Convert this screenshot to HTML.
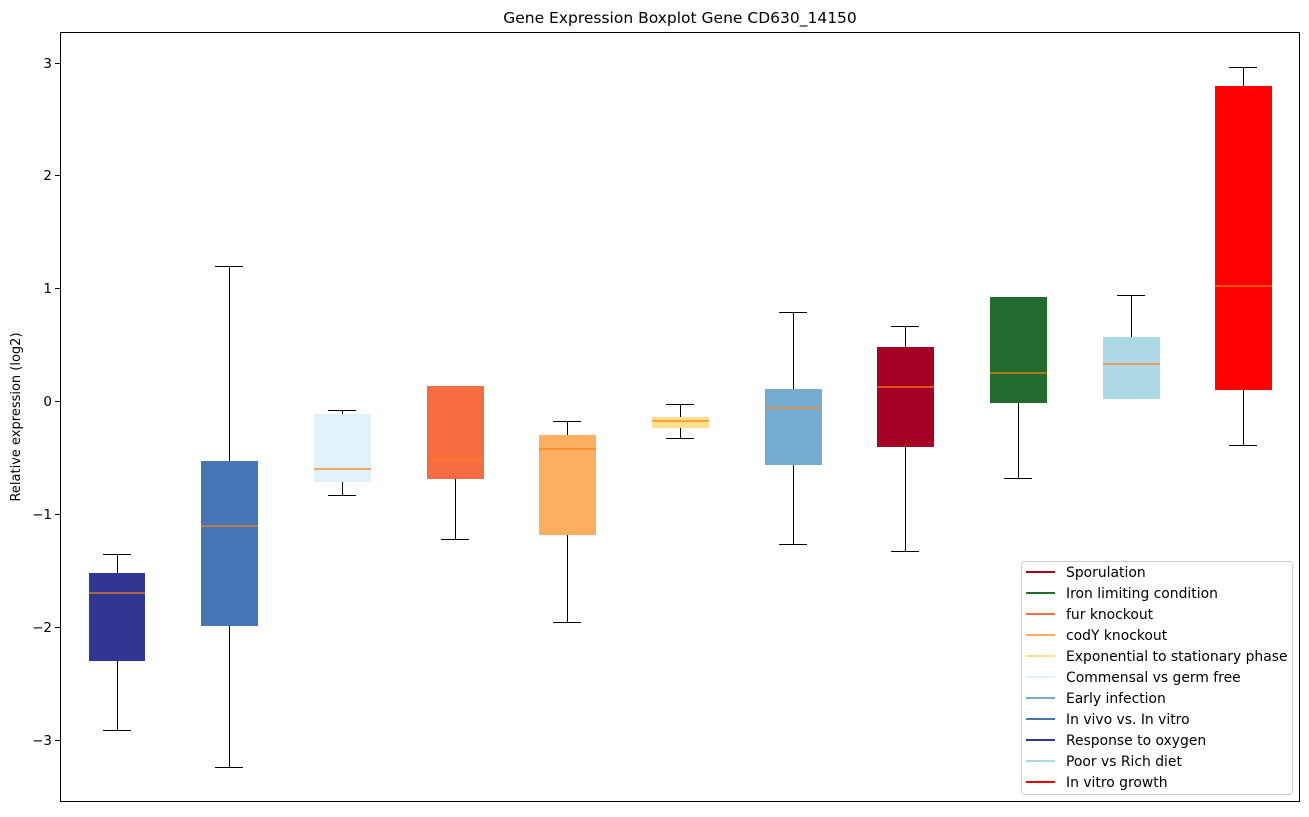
<!DOCTYPE html>
<html><head><meta charset="utf-8"><style>
html,body{margin:0;padding:0;background:#fff;}
svg text{font-family:"DejaVu Sans","Liberation Sans",sans-serif;fill:#000;}
</style></head><body>
<svg width="1309" height="812" xmlns="http://www.w3.org/2000/svg">
<rect width="1309" height="812" fill="#fff"/>
<text x="680" y="23" font-size="15.5" text-anchor="middle">Gene Expression Boxplot Gene CD630_14150</text>
<text transform="translate(20,417) rotate(-90)" font-size="13" text-anchor="middle">Relative expression (log2)</text>
<g font-size="13.5" text-anchor="end">
<text x="52" y="68">3</text><line x1="55" x2="60" y1="63.5" y2="63.5" stroke="#000"/>
<text x="52" y="180">2</text><line x1="55" x2="60" y1="175.5" y2="175.5" stroke="#000"/>
<text x="52" y="293">1</text><line x1="55" x2="60" y1="288.5" y2="288.5" stroke="#000"/>
<text x="52" y="406">0</text><line x1="55" x2="60" y1="401.5" y2="401.5" stroke="#000"/>
<text x="52" y="519">−1</text><line x1="55" x2="60" y1="514.5" y2="514.5" stroke="#000"/>
<text x="52" y="632">−2</text><line x1="55" x2="60" y1="627.5" y2="627.5" stroke="#000"/>
<text x="52" y="745">−3</text><line x1="55" x2="60" y1="740.5" y2="740.5" stroke="#000"/>
</g>
<g stroke="#000" stroke-width="1">
<line x1="117.5" x2="117.5" y1="554" y2="730"/><line x1="103" x2="131" y1="554.5" y2="554.5"/><line x1="103" x2="131" y1="730.5" y2="730.5"/>
<line x1="229.5" x2="229.5" y1="266" y2="767"/><line x1="215" x2="243" y1="266.5" y2="266.5"/><line x1="215" x2="243" y1="767.5" y2="767.5"/>
<line x1="342.5" x2="342.5" y1="410" y2="495"/><line x1="328" x2="356" y1="410.5" y2="410.5"/><line x1="328" x2="356" y1="495.5" y2="495.5"/>
<line x1="455.5" x2="455.5" y1="386" y2="539"/><line x1="441" x2="469" y1="386.5" y2="386.5"/><line x1="441" x2="469" y1="539.5" y2="539.5"/>
<line x1="567.5" x2="567.5" y1="421" y2="622"/><line x1="553" x2="581" y1="421.5" y2="421.5"/><line x1="553" x2="581" y1="622.5" y2="622.5"/>
<line x1="680.5" x2="680.5" y1="404" y2="438"/><line x1="666" x2="694" y1="404.5" y2="404.5"/><line x1="666" x2="694" y1="438.5" y2="438.5"/>
<line x1="793.5" x2="793.5" y1="312" y2="544"/><line x1="779" x2="807" y1="312.5" y2="312.5"/><line x1="779" x2="807" y1="544.5" y2="544.5"/>
<line x1="905.5" x2="905.5" y1="326" y2="551"/><line x1="891" x2="919" y1="326.5" y2="326.5"/><line x1="891" x2="919" y1="551.5" y2="551.5"/>
<line x1="1018.5" x2="1018.5" y1="297" y2="478"/><line x1="1004" x2="1032" y1="297.5" y2="297.5"/><line x1="1004" x2="1032" y1="478.5" y2="478.5"/>
<line x1="1131.5" x2="1131.5" y1="295" y2="398"/><line x1="1117" x2="1145" y1="295.5" y2="295.5"/><line x1="1117" x2="1145" y1="398.5" y2="398.5"/>
<line x1="1243.5" x2="1243.5" y1="67" y2="445"/><line x1="1229" x2="1257" y1="67.5" y2="67.5"/><line x1="1229" x2="1257" y1="445.5" y2="445.5"/>
</g>
<g>
<rect x="89" y="573" width="56" height="88" fill="#313695"/>
<rect x="201" y="461" width="57" height="165" fill="#4575b4"/>
<rect x="314" y="414" width="57" height="68" fill="#e0f3f8"/>
<rect x="427" y="386" width="57" height="93" fill="#f46d43"/>
<rect x="539" y="435" width="57" height="100" fill="#fdae61"/>
<rect x="652" y="417" width="57" height="11" fill="#fee090"/>
<rect x="765" y="389" width="57" height="76" fill="#74add1"/>
<rect x="877" y="347" width="57" height="100" fill="#a50026"/>
<rect x="990" y="297" width="57" height="106" fill="#246b2e"/>
<rect x="1103" y="337" width="57" height="62" fill="#add8e6"/>
<rect x="1215" y="86" width="57" height="304" fill="#ff0000"/>
</g>
<g stroke="#ff7f0e" stroke-width="1.3">
<line x1="89" x2="145" y1="593" y2="593"/>
<line x1="201" x2="258" y1="526" y2="526"/>
<line x1="314" x2="371" y1="469" y2="469"/>
<line x1="427" x2="484" y1="459" y2="459"/>
<line x1="539" x2="596" y1="449" y2="449"/>
<line x1="652" x2="709" y1="421" y2="421"/>
<line x1="765" x2="822" y1="408" y2="408"/>
<line x1="877" x2="934" y1="387" y2="387"/>
<line x1="990" x2="1047" y1="373" y2="373"/>
<line x1="1103" x2="1160" y1="364" y2="364"/>
<line x1="1215" x2="1272" y1="286" y2="286"/>
</g>
<rect x="60.5" y="32.5" width="1239" height="769" fill="none" stroke="#000" stroke-width="1"/>
<rect x="1021.5" y="561.5" width="271" height="233" rx="3" fill="#fff" fill-opacity="0.8" stroke="#ccc"/>
<g stroke-width="2">
<line x1="1026" x2="1055" y1="572" y2="572" stroke="#a50026"/>
<line x1="1026" x2="1055" y1="593" y2="593" stroke="#246b2e"/>
<line x1="1026" x2="1055" y1="614" y2="614" stroke="#f46d43"/>
<line x1="1026" x2="1055" y1="635" y2="635" stroke="#fdae61"/>
<line x1="1026" x2="1055" y1="656" y2="656" stroke="#fee090"/>
<line x1="1026" x2="1055" y1="677" y2="677" stroke="#e0f3f8"/>
<line x1="1026" x2="1055" y1="698" y2="698" stroke="#74add1"/>
<line x1="1026" x2="1055" y1="719" y2="719" stroke="#4575b4"/>
<line x1="1026" x2="1055" y1="740" y2="740" stroke="#313695"/>
<line x1="1026" x2="1055" y1="761" y2="761" stroke="#add8e6"/>
<line x1="1026" x2="1055" y1="782" y2="782" stroke="#ff0000"/>
</g>
<g font-size="13.9">
<text x="1066" y="577">Sporulation</text>
<text x="1066" y="598">Iron limiting condition</text>
<text x="1066" y="619">fur knockout</text>
<text x="1066" y="640">codY knockout</text>
<text x="1066" y="661">Exponential to stationary phase</text>
<text x="1066" y="682">Commensal vs germ free</text>
<text x="1066" y="703">Early infection</text>
<text x="1066" y="724">In vivo vs. In vitro</text>
<text x="1066" y="745">Response to oxygen</text>
<text x="1066" y="766">Poor vs Rich diet</text>
<text x="1066" y="787">In vitro growth</text>
</g>
</svg>
</body></html>
